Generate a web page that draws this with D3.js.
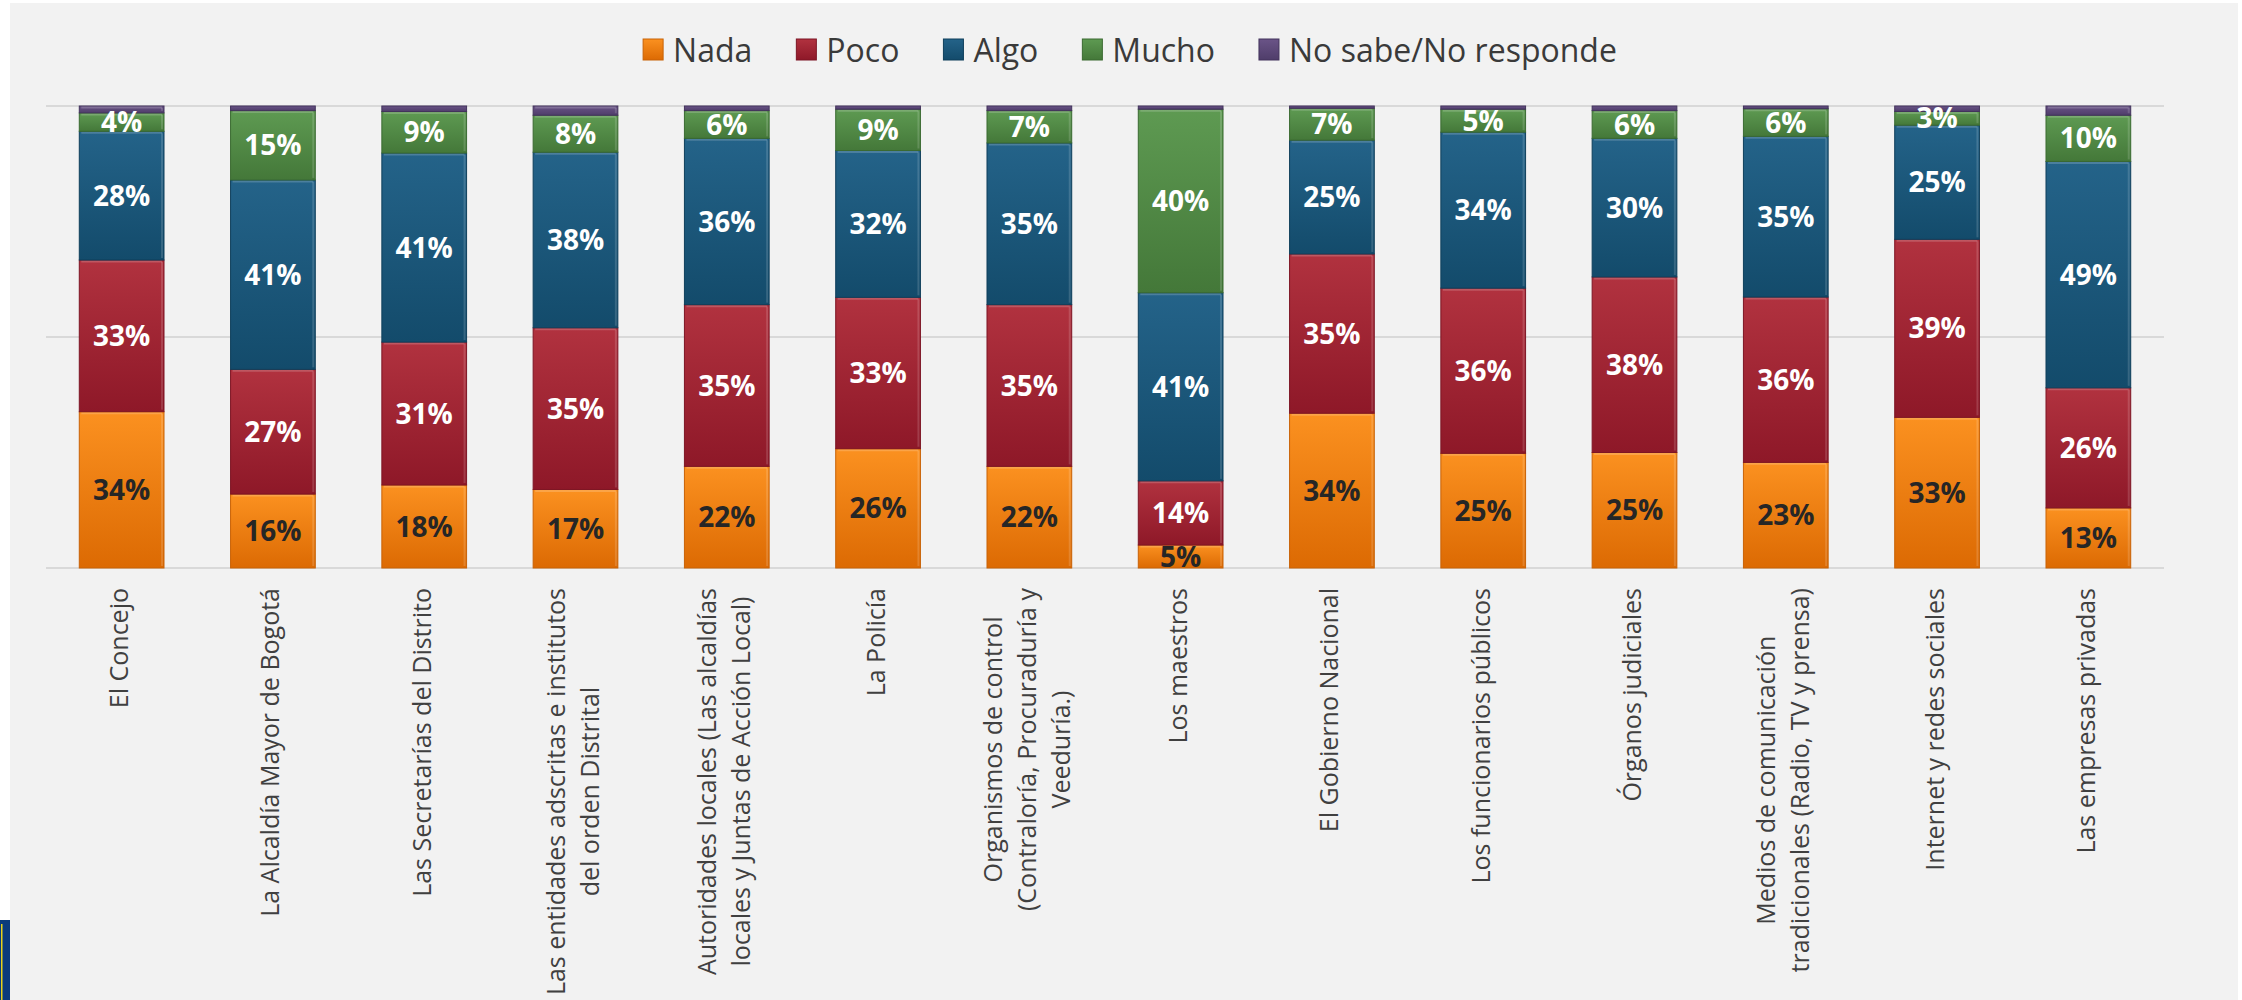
<!DOCTYPE html>
<html>
<head>
<meta charset="utf-8">
<script src="https://cdn.jsdelivr.net/npm/d3@7"></script>
<style>
  html, body { margin: 0; padding: 0; background: #ffffff; }
  svg { display: block; }
</style>
</head>
<body>
<svg id="chart" width="2242" height="1000"></svg>
<script>
// ---------------- DATA ----------------
const categories = [
  "El Concejo",
  "La Alcaldía Mayor de Bogotá",
  "Las Secretarías del Distrito",
  "Las entidades adscritas e institutos\ndel orden Distrital",
  "Autoridades locales (Las alcaldías\nlocales y Juntas de Acción Local)",
  "La Policía",
  "Organismos de control\n(Contraloría, Procuraduría y\nVeeduría.)",
  "Los maestros",
  "El Gobierno Nacional",
  "Los funcionarios públicos",
  "Órganos judiciales",
  "Medios de comunicación\ntradicionales (Radio, TV y prensa)",
  "Internet y redes sociales",
  "Las empresas privadas"
];
const seriesNames = ["Nada", "Poco", "Algo", "Mucho", "No sabe/No responde"];
const nada    = [34, 16, 18, 17, 22, 26, 22,  5, 34, 25, 25, 23, 33, 13];
const poco    = [33, 27, 31, 35, 35, 33, 35, 14, 35, 36, 38, 36, 39, 26];
const algo    = [28, 41, 41, 38, 36, 32, 35, 41, 25, 34, 30, 35, 25, 49];
const mucho   = [ 4, 15,  9,  8,  6,  9,  7, 40,  7,  5,  6,  6,  3, 10];
const noSabe  = [1.5, 1, 1.2, 2, 1, 0.7, 1, 0.7, 0.5, 0.7, 1, 0.6, 1.2, 2];
const yTicks  = [0, 0.5, 1];

// ---------------- STYLE ----------------
const W = 2242, H = 1000;
const plot = { left: 46, right: 2164, top: 106, bottom: 568 };
const palette = {
  "Nada":  { top: "#fb9120", bot: "#dc6a03", stroke: "#c86206", label: "#262626" },
  "Poco":  { top: "#b1323f", bot: "#8e1828", stroke: "#7d1524", label: "#ffffff" },
  "Algo":  { top: "#246389", bot: "#134b6b", stroke: "#0f3f5b", label: "#ffffff" },
  "Mucho": { top: "#5e9a52", bot: "#447839", stroke: "#3a6a31", label: "#ffffff" },
  "No sabe/No responde": { top: "#6a5487", bot: "#4f3d6a", stroke: "#43335c", label: "#ffffff" }
};

const svg = d3.select("#chart");
svg.append("rect").attr("x", 0).attr("y", 0).attr("width", W).attr("height", H).attr("fill", "#ffffff");
svg.append("rect").attr("x", 10).attr("y", 3).attr("width", 2228).attr("height", H - 3).attr("fill", "#f2f2f2");
// logo fragment at the bottom-left edge
svg.append("rect").attr("x", 0).attr("y", 920).attr("width", 10).attr("height", 80).attr("fill", "#0b3b7c");
svg.append("rect").attr("x", 1).attr("y", 924).attr("width", 1.5).attr("height", 76).attr("fill", "#e8d21a");

const defs = svg.append("defs");
seriesNames.forEach((s, i) => {
  const g = defs.append("linearGradient").attr("id", "grad" + i)
    .attr("x1", 0).attr("y1", 0).attr("x2", 0).attr("y2", 1);
  g.append("stop").attr("offset", "0%").attr("stop-color", palette[s].top);
  g.append("stop").attr("offset", "100%").attr("stop-color", palette[s].bot);
});

// table for the stack
const table = categories.map((c, i) => ({
  cat: c, "Nada": nada[i], "Poco": poco[i], "Algo": algo[i], "Mucho": mucho[i], "No sabe/No responde": noSabe[i]
}));

const stack = d3.stack().keys(seriesNames).offset(d3.stackOffsetExpand);
const layers = stack(table);

const x = d3.scaleBand().domain(categories).range([plot.left, plot.right])
  .paddingInner(0.44).paddingOuter(0.22);
const y = d3.scaleLinear().domain([0, 1]).range([plot.bottom, plot.top]);

// gridlines
svg.append("g").selectAll("line").data(yTicks).join("line")
  .attr("x1", plot.left).attr("x2", plot.right)
  .attr("y1", d => y(d)).attr("y2", d => y(d))
  .attr("stroke", "#d9d9d9").attr("stroke-width", 2);

// bars
const gBars = svg.append("g");
layers.forEach((layer, li) => {
  const s = layer.key;
  const g = gBars.append("g");
  g.selectAll("rect").data(layer).join("rect")
    .attr("x", d => x(d.data.cat))
    .attr("width", x.bandwidth())
    .attr("y", d => y(d[1]))
    .attr("height", d => Math.max(0, y(d[0]) - y(d[1])))
    .attr("fill", "url(#grad" + li + ")")
    .attr("stroke", palette[s].stroke)
    .attr("stroke-width", 1);
  // bevel highlights
  g.selectAll("line.hl").data(layer).join("line").attr("class", "hl")
    .attr("x1", d => x(d.data.cat) + 2).attr("x2", d => x(d.data.cat) + x.bandwidth() - 2)
    .attr("y1", d => y(d[1]) + 1.5).attr("y2", d => y(d[1]) + 1.5)
    .attr("stroke", "rgba(255,255,255,0.18)").attr("stroke-width", 2)
    .attr("display", d => (y(d[0]) - y(d[1])) > 6 ? null : "none");
  g.selectAll("line.hr").data(layer).join("line").attr("class", "hr")
    .attr("x1", d => x(d.data.cat) + x.bandwidth() - 2).attr("x2", d => x(d.data.cat) + x.bandwidth() - 2)
    .attr("y1", d => y(d[1]) + 2).attr("y2", d => y(d[0]) - 2)
    .attr("stroke", "rgba(255,255,255,0.15)").attr("stroke-width", 2)
    .attr("display", d => (y(d[0]) - y(d[1])) > 6 ? null : "none");
});

// value labels (all but No sabe)
const gLab = svg.append("g");
layers.forEach((layer, li) => {
  const s = layer.key;
  if (s === "No sabe/No responde") return;
  gLab.append("g").selectAll("text").data(layer).join("text")
    .attr("x", d => x(d.data.cat) + x.bandwidth() / 2)
    .attr("y", d => (y(d[0]) + y(d[1])) / 2)
    .attr("dy", "0.36em")
    .attr("text-anchor", "middle")
    .attr("font-family", "'Open Sans', sans-serif")
    .attr("font-weight", 700)
    .attr("font-size", 28)
    .attr("fill", palette[s].label)
    .text(d => d.data[s] + "%");
});

// category axis labels (rotated, multi-line, centred)
const axisY = 588, fsAxis = 25, lh = 34;
const gAx = svg.append("g");
categories.forEach(c => {
  const lines = c.split("\n");
  const cx = x(c) + x.bandwidth() / 2;
  const g = gAx.append("g").attr("transform", `translate(${cx},${axisY}) rotate(-90)`);
  const texts = lines.map((ln, i) => g.append("text")
    .attr("font-family", "'Open Sans', sans-serif")
    .attr("font-size", fsAxis)
    .attr("fill", "#404040")
    .attr("text-anchor", "middle")
    .attr("y", (i - (lines.length - 1) / 2) * lh + fsAxis * 0.26)
    .text(ln));
  const maxW = d3.max(texts, t => t.node().getComputedTextLength());
  texts.forEach(t => t.attr("x", -maxW / 2));
});

// legend
const legendCenter = 1130, legendY = 50, sq = 20, gapSqText = 10, gapItems = 44, fsLeg = 32;
const gLeg = svg.append("g");
const items = seriesNames.map((s, i) => {
  const g = gLeg.append("g");
  g.append("rect").attr("x", 0).attr("y", legendY - 11).attr("width", sq).attr("height", 21)
    .attr("fill", "url(#grad" + i + ")").attr("stroke", palette[s].stroke).attr("stroke-width", 1);
  const t = g.append("text").attr("x", sq + gapSqText).attr("y", legendY).attr("dy", "0.36em")
    .attr("font-family", "'Open Sans', sans-serif").attr("font-size", fsLeg).attr("fill", "#3a3a3a")
    .text(s);
  return { g, w: sq + gapSqText + t.node().getComputedTextLength() };
});
const totalW = d3.sum(items, d => d.w) + gapItems * (items.length - 1);
let cur = legendCenter - totalW / 2;
items.forEach(it => { it.g.attr("transform", `translate(${cur},0)`); cur += it.w + gapItems; });
</script>
</body>
</html>
